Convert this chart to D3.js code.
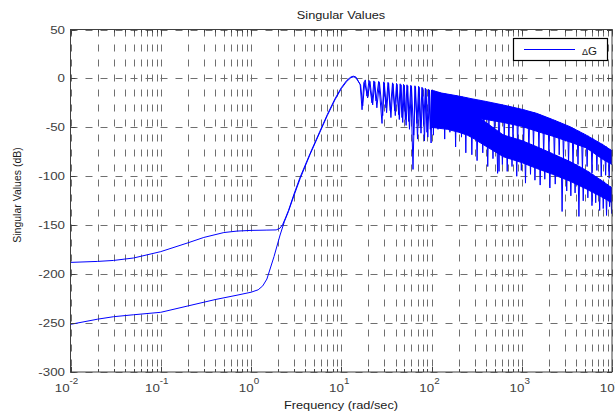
<!DOCTYPE html>
<html>
<head>
<meta charset="utf-8">
<script src="https://cdn.jsdelivr.net/npm/d3@7"></script>
<style>
  body { margin: 0; background: #fff; }
  text { font-family: "Liberation Sans", Arial, sans-serif; }
</style>
</head>
<body>
<svg id="chart" width="615" height="418"></svg>
<script>
// tick labels
const xTickExps = [-2, -1, 0, 1, 2, 3, 4];
const yTickValues = [50, 0, -50, -100, -150, -200, -250, -300];

// singular value 1: [freq rad/s, dB], low freq + resonance region
const sv1 = [[0.01,-188],[0.02,-187],[0.03,-186],[0.05,-183.5],[0.1,-177],[0.2,-168],[0.3,-162.5],[0.5,-157.5],[0.7,-156],[1,-155.3],[1.5,-155],[1.9,-154.8],[2.1,-153],[2.25,-149],[2.4,-143],[2.6,-135],[3,-118],[3.5,-101],[4.5,-77],[5.8,-54],[7,-37],[8.5,-21],[10,-9.5],[11.5,-2],[12.8,1.5],[13.6,2.3],[14.5,1.5],[16.2,-6],[17,-32],[17.8,-4],[18.5,-1.5],[19.3,-18],[20.3,-2],[21.9,-25],[23,-2.5],[24.3,-23],[26,-3],[28.3,-46],[29.6,-3.5],[31.3,-30],[33,-4],[34.9,-33],[37,-4.5],[39.1,-33],[41,-5],[43.3,-37],[45,-5.5],[47.1,-40],[49,-6],[51.3,-42],[53.5,-6.5],[55.9,-44],[59,-7],[62.4,-93],[65.5,-7.5],[69,-46],[72,-8],[75.1,-50],[78.5,-9],[81.9,-47],[85.5,-10],[89.1,-55],[93,-11],[97,-52],[100,-12]];

// singular value 2
const sv2 = [[0.01,-251.3],[0.02,-246],[0.03,-243.5],[0.05,-241.5],[0.1,-239],[0.2,-232.5],[0.4,-226],[0.7,-221.5],[1,-218.5],[1.2,-216],[1.35,-212],[1.5,-205],[1.8,-182],[2.1,-160],[2.35,-146],[2.6,-136],[3,-119.5],[3.5,-102.5],[4.5,-78],[5.8,-55],[7,-38],[8.5,-22],[10,-10.5],[11.5,-3],[12.8,0.8],[13.6,1.6],[14.5,1],[16.4,-7],[17.3,-28],[18.2,-4],[19.6,-20],[20.8,-3],[22.3,-27],[23.5,-3.5],[24.8,-30],[26.5,-4],[28.8,-38],[30,-4.5],[31.8,-35],[33.5,-5],[35.5,-40],[37.5,-5.5],[39.7,-38],[41.5,-6],[44,-42],[46,-6.5],[48,-45],[50,-7],[52.3,-48],[54.5,-7.5],[57,-52],[60,-8],[63.5,-58],[66.5,-8.5],[70,-62],[73,-9],[76.5,-56],[80,-10],[83.5,-64],[87,-11],[91,-60],[95,-12],[99,-66],[102,-13]];

// dense high-frequency part: [freq, top dB, band bottom dB]
const band1 = [[100,-12,-40],[130,-15,-45],[200,-18,-42],[267,-20.4,-40],[400,-23.5,-42],[625,-27.2,-45],[1000,-31.5,-49],[1465,-35.7,-54],[2200,-42,-59],[3428,-49.3,-65],[5200,-58,-71],[8020,-68,-83],[10000,-74,-88]];
const band2 = [[100,-13,-50],[150,-17,-52],[200,-20,-55],[250,-25,-58],[300,-36,-62],[350,-41,-66],[625,-57.8,-80],[1000,-63.5,-86],[1465,-69.8,-92],[2200,-77,-98],[3428,-85,-105],[5200,-94,-113],[8020,-105.5,-122],[10000,-112,-127]];

// deepest notches in the dense part: [freq, dB]
const notches1 = [[105,-58],[118,-52],[140,-62],[160,-55],[185,-70],[215,-60],[240,-76],[290,-58],[330,-64],[380,-55],[430,-66],[500,-60],[560,-95],[640,-62],[720,-70],[800,-64],[900,-72],[1050,-68],[1200,-78],[1350,-70],[1550,-74],[1750,-80],[2000,-76],[2300,-84],[2600,-78],[2900,-82],[3300,-86],[3700,-92],[4200,-88],[4700,-95],[5300,-90],[6000,-97],[6800,-94],[7600,-100],[8500,-99],[9300,-102]];
const notches2 = [[280,-78],[320,-84],[370,-76],[420,-90],[480,-82],[540,-97],[610,-88],[690,-95],[780,-90],[880,-100],[990,-94],[1100,-107],[1250,-98],[1400,-104],[1600,-109],[1800,-103],[2050,-112],[2350,-108],[2800,-136],[3150,-115],[3500,-120],[3900,-117],[4300,-141],[4800,-125],[5400,-122],[6000,-130],[6600,-127],[7300,-135],[8000,-133],[8700,-140],[9400,-131],[9900,-138]];

const svg = d3.select("#chart");
const pLeft = 70.5, pRight = 612, pTop = 29.5, pBottom = 372;
const blue = "#0000ff";
const stretch = 1.16;

const x = d3.scaleLog().domain([1e-2, 1e4]).range([pLeft, pRight]);
const y = d3.scaleLinear().domain([-300, 50]).range([pBottom, pTop]);

// grid
const grid = svg.append("g").attr("stroke", "#6f6f6f").attr("stroke-dasharray", "7,8").attr("stroke-width", 1);
grid.selectAll("line.v").data(x.ticks()).join("line")
  .attr("x1", d => Math.round(x(d)) + 0.5).attr("x2", d => Math.round(x(d)) + 0.5)
  .attr("y1", pTop).attr("y2", pBottom);
grid.selectAll("line.h").data(yTickValues).join("line")
  .attr("y1", d => Math.round(y(d)) + 0.5).attr("y2", d => Math.round(y(d)) + 0.5)
  .attr("x1", pLeft).attr("x2", pRight);

svg.append("clipPath").attr("id", "clip").append("rect")
  .attr("x", pLeft).attr("y", pTop).attr("width", pRight - pLeft).attr("height", pBottom - pTop);
const plot = svg.append("g").attr("clip-path", "url(#clip)");

const line = d3.line().x(d => x(d[0])).y(d => y(d[1]));
const area = d3.area().x(d => x(d[0])).y1(d => y(d[1])).y0(d => y(d[2]));

[[band2, notches2], [band1, notches1]].forEach(([band, notches]) => {
  plot.append("path").datum(band).attr("d", area)
    .attr("fill", blue).attr("stroke", blue).attr("stroke-width", 1);
  const env = d3.scaleLog().domain(band.map(d => d[0])).range(band.map(d => d[1]));
  plot.selectAll(null).data(notches).join("path")
    .attr("d", d => {
      const xf = x(d[0]);
      return `M${xf - 0.9},${y(env(d[0]))}L${xf},${y(d[1])}L${xf + 0.9},${y(env(d[0]))}`;
    })
    .attr("fill", "none").attr("stroke", blue).attr("stroke-width", 1);
});

[sv2, sv1].forEach(s => {
  plot.append("path").datum(s).attr("d", line)
    .attr("fill", "none").attr("stroke", blue).attr("stroke-width", 1);
});

// frame and ticks
const axisColor = "#404040";
svg.append("rect").attr("x", pLeft).attr("y", pTop).attr("width", pRight - pLeft).attr("height", pBottom - pTop)
  .attr("fill", "none").attr("stroke", axisColor).attr("stroke-width", 1);

const ticks = svg.append("g").attr("stroke", axisColor).attr("stroke-width", 1);
x.ticks().forEach(f => {
  const e = Math.log10(f);
  const major = Math.abs(e - Math.round(e)) < 1e-9;
  const len = major ? 5 : 3;
  const xp = Math.round(x(f)) + 0.5;
  ticks.append("line").attr("x1", xp).attr("x2", xp).attr("y1", pBottom).attr("y2", pBottom - len);
  ticks.append("line").attr("x1", xp).attr("x2", xp).attr("y1", pTop).attr("y2", pTop + len);
});
yTickValues.forEach(v => {
  const yp = Math.round(y(v)) + 0.5;
  ticks.append("line").attr("x1", pLeft).attr("x2", pLeft + 5).attr("y1", yp).attr("y2", yp);
  ticks.append("line").attr("x1", pRight).attr("x2", pRight - 5).attr("y1", yp).attr("y2", yp);
});

// tick labels
svg.selectAll("text.ytick").data(yTickValues).join("text")
  .attr("transform", d => `translate(65,${y(d) + 4}) scale(${stretch},1)`)
  .attr("text-anchor", "end").attr("font-size", 11.5).attr("fill", axisColor)
  .text(d => d);

const xl = svg.selectAll("text.xtick").data(xTickExps).join("text")
  .attr("transform", d => `translate(${x(Math.pow(10, d)) - (d < 0 ? 4 : 2)},392) scale(${stretch},1)`)
  .attr("text-anchor", "middle").attr("fill", axisColor).attr("font-size", 11.5);
xl.append("tspan").text("10");
xl.append("tspan").attr("dy", -8).attr("font-size", 8.5).text(d => d);

// titles
svg.append("text").attr("transform", `translate(341,19) scale(${stretch},1)`)
  .attr("text-anchor", "middle").attr("font-size", 11).attr("fill", "#1a1a1a").text("Singular Values");
svg.append("text").attr("transform", `translate(341,409) scale(${stretch},1)`)
  .attr("text-anchor", "middle").attr("font-size", 11).attr("fill", "#1a1a1a").text("Frequency (rad/sec)");
svg.append("text").attr("transform", "translate(21,195) rotate(-90)")
  .attr("text-anchor", "middle").attr("font-size", 10.5).attr("fill", "#1a1a1a").text("Singular Values (dB)");

// legend
const lg = svg.append("g");
lg.append("rect").attr("x", 513.5).attr("y", 38.5).attr("width", 94).attr("height", 22)
  .attr("fill", "#fff").attr("stroke", "#000").attr("stroke-width", 1.2);
lg.append("path").attr("d", "M524,49.5H575")
  .attr("fill", "none").style("stroke", blue).attr("stroke-width", 1.2);
const lt = lg.append("text").attr("x", 582).attr("y", 54.5).attr("fill", "#1a1a1a");
lt.append("tspan").attr("font-size", 9).text("Δ");
lt.append("tspan").attr("font-size", 11.5).text("G");
</script>
</body>
</html>
